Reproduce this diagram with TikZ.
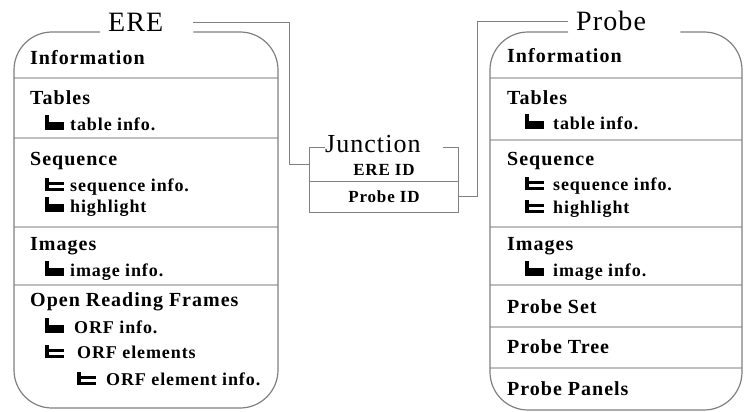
\documentclass[tikz,border=0pt]{standalone}
\usepackage{fontspec}
\setmainfont{Liberation Serif}
\newfontfamily\titlefont[LetterSpace=4]{Liberation Serif}
\newfontfamily\entryfont[LetterSpace=5]{Liberation Serif}

\tikzset{
  outline/.style={draw=black!50, line width=1.2pt},
  divider/.style={draw=black!25, line width=2pt},
  link/.style={draw=black!50, line width=1.2pt},
  boxtitle/.style={anchor=base west, inner xsep=8pt, inner ysep=0pt, align=left,
    font=\titlefont\fontsize{28}{30}\selectfont},
  head/.style={anchor=base west, inner sep=0pt, font=\entryfont\bfseries\fontsize{20}{22}\selectfont},
  entry/.style={anchor=base west, inner sep=0pt, font=\entryfont\bfseries\fontsize{18}{20}\selectfont},
  cell/.style={minimum width=148pt, inner sep=0pt, text height=12pt, text depth=0pt,
    font=\entryfont\bfseries\fontsize{17}{19}\selectfont},
  lastleaf/.pic={\fill (0,0) rectangle (4,-15); \fill (0,0) rectangle (19,-8);},
  midleaf/.pic={\fill (0,0) rectangle (4,-13); \fill (0,-6) rectangle (19,-9.5); \fill (0,0) rectangle (19,-3.5);}
}

\begin{document}
\begin{tikzpicture}[x=1pt,y=-1pt]
\useasboundingbox (0,0) rectangle (744,412);

\coordinate (topA) at (14,32);
\coordinate (topB) at (490,32);

% ERE table
\node[boxtitle, text width=77pt] (ere) at (100,32) {ERE};

\foreach \y in {78,138,227,285}
    \draw[divider] (14,\y) -- (278,\y);

\draw[outline, rounded corners=38pt] (ere.west |- topA) -- (14,32) -- (14,408) -- (278,408) -- (278,32) -- (ere.east |- topA);

\node[head] (infoA) at (30,64) {Information};
\node[head] (tabA) at (30,104) {Tables};
\pic at (45,130) {lastleaf};
\node[entry] (tabinfoA) at (70,130) {table info.};
\node[head] (seqA) at (30,165) {Sequence};
\pic at (45,191) {midleaf};
\node[entry] (seqinfoA) at (70,191) {sequence info.};
\pic at (45,212) {lastleaf};
\node[entry] (hlA) at (70,212) {highlight};
\node[head] (imgA) at (30,250) {Images};
\pic at (45,276) {lastleaf};
\node[entry] (imginfoA) at (70,276) {image info.};
\node[head] (orfA) at (30,306) {Open Reading Frames};
\pic at (45,333) {lastleaf};
\node[entry] (orfinfoA) at (74,333) {ORF info.};
\pic at (45,358) {midleaf};
\node[entry] (orfelA) at (77,358) {ORF elements};
\pic at (77,385) {midleaf};
\node[entry] (orfelinfoA) at (106,385) {ORF element info.};

% Probe table
\node[boxtitle, text width=96pt] (probe) at (568,31) {Probe};

\foreach \y in {78,140,227,285,327,368}
    \draw[divider] (490,\y) -- (742,\y);

\draw[outline, rounded corners=38pt] (probe.west |- topB) -- (490,32) -- (490,410) -- (742,410) -- (742,32) -- (probe.east |- topB);

\node[head] (infoB) at (507,63) {Information};
\node[head] (tabB) at (507,104) {Tables};
\pic at (525,129) {lastleaf};
\node[entry] (tabinfoB) at (553,129) {table info.};
\node[head] (seqB) at (507,165) {Sequence};
\pic at (525,190) {midleaf};
\node[entry] (seqinfoB) at (553,190) {sequence info.};
\pic at (525,213) {midleaf};
\node[entry] (hlB) at (553,213) {highlight};
\node[head] (imgB) at (507,250) {Images};
\pic at (525,276) {lastleaf};
\node[entry] (imginfoB) at (553,276) {image info.};
\node[head] (setB) at (507,313) {Probe Set};
\node[head] (treeB) at (507,353) {Probe Tree};
\node[head] (panB) at (507,395) {Probe Panels};

% Junction table
\node[cell, minimum height=33pt, text height=21pt] (ereid) at (384,164.5) {ERE ID};
\node[cell, minimum height=31pt] (probeid) at (384,196.5) {Probe ID};
\node[anchor=base west, inner sep=0pt, text width=118pt, align=left,
      font=\titlefont\fontsize{26}{28}\selectfont] (junc) at (325,152) {Junction};

\draw[outline] (junc.base west |- ereid.north) -- (ereid.north west) -- (probeid.south west)
    -- (probeid.south east) -- (ereid.north east) -- (junc.base east |- ereid.north);
\draw[outline] (ereid.south west) -- (ereid.south east);

% links
\draw[link] (ere.east) -| ([xshift=-20pt]ereid.west) -- (ereid.west);
\draw[link] (probeid.east) -- ([xshift=19pt]probeid.east) |- (probe.west);

\end{tikzpicture}
\end{document}
